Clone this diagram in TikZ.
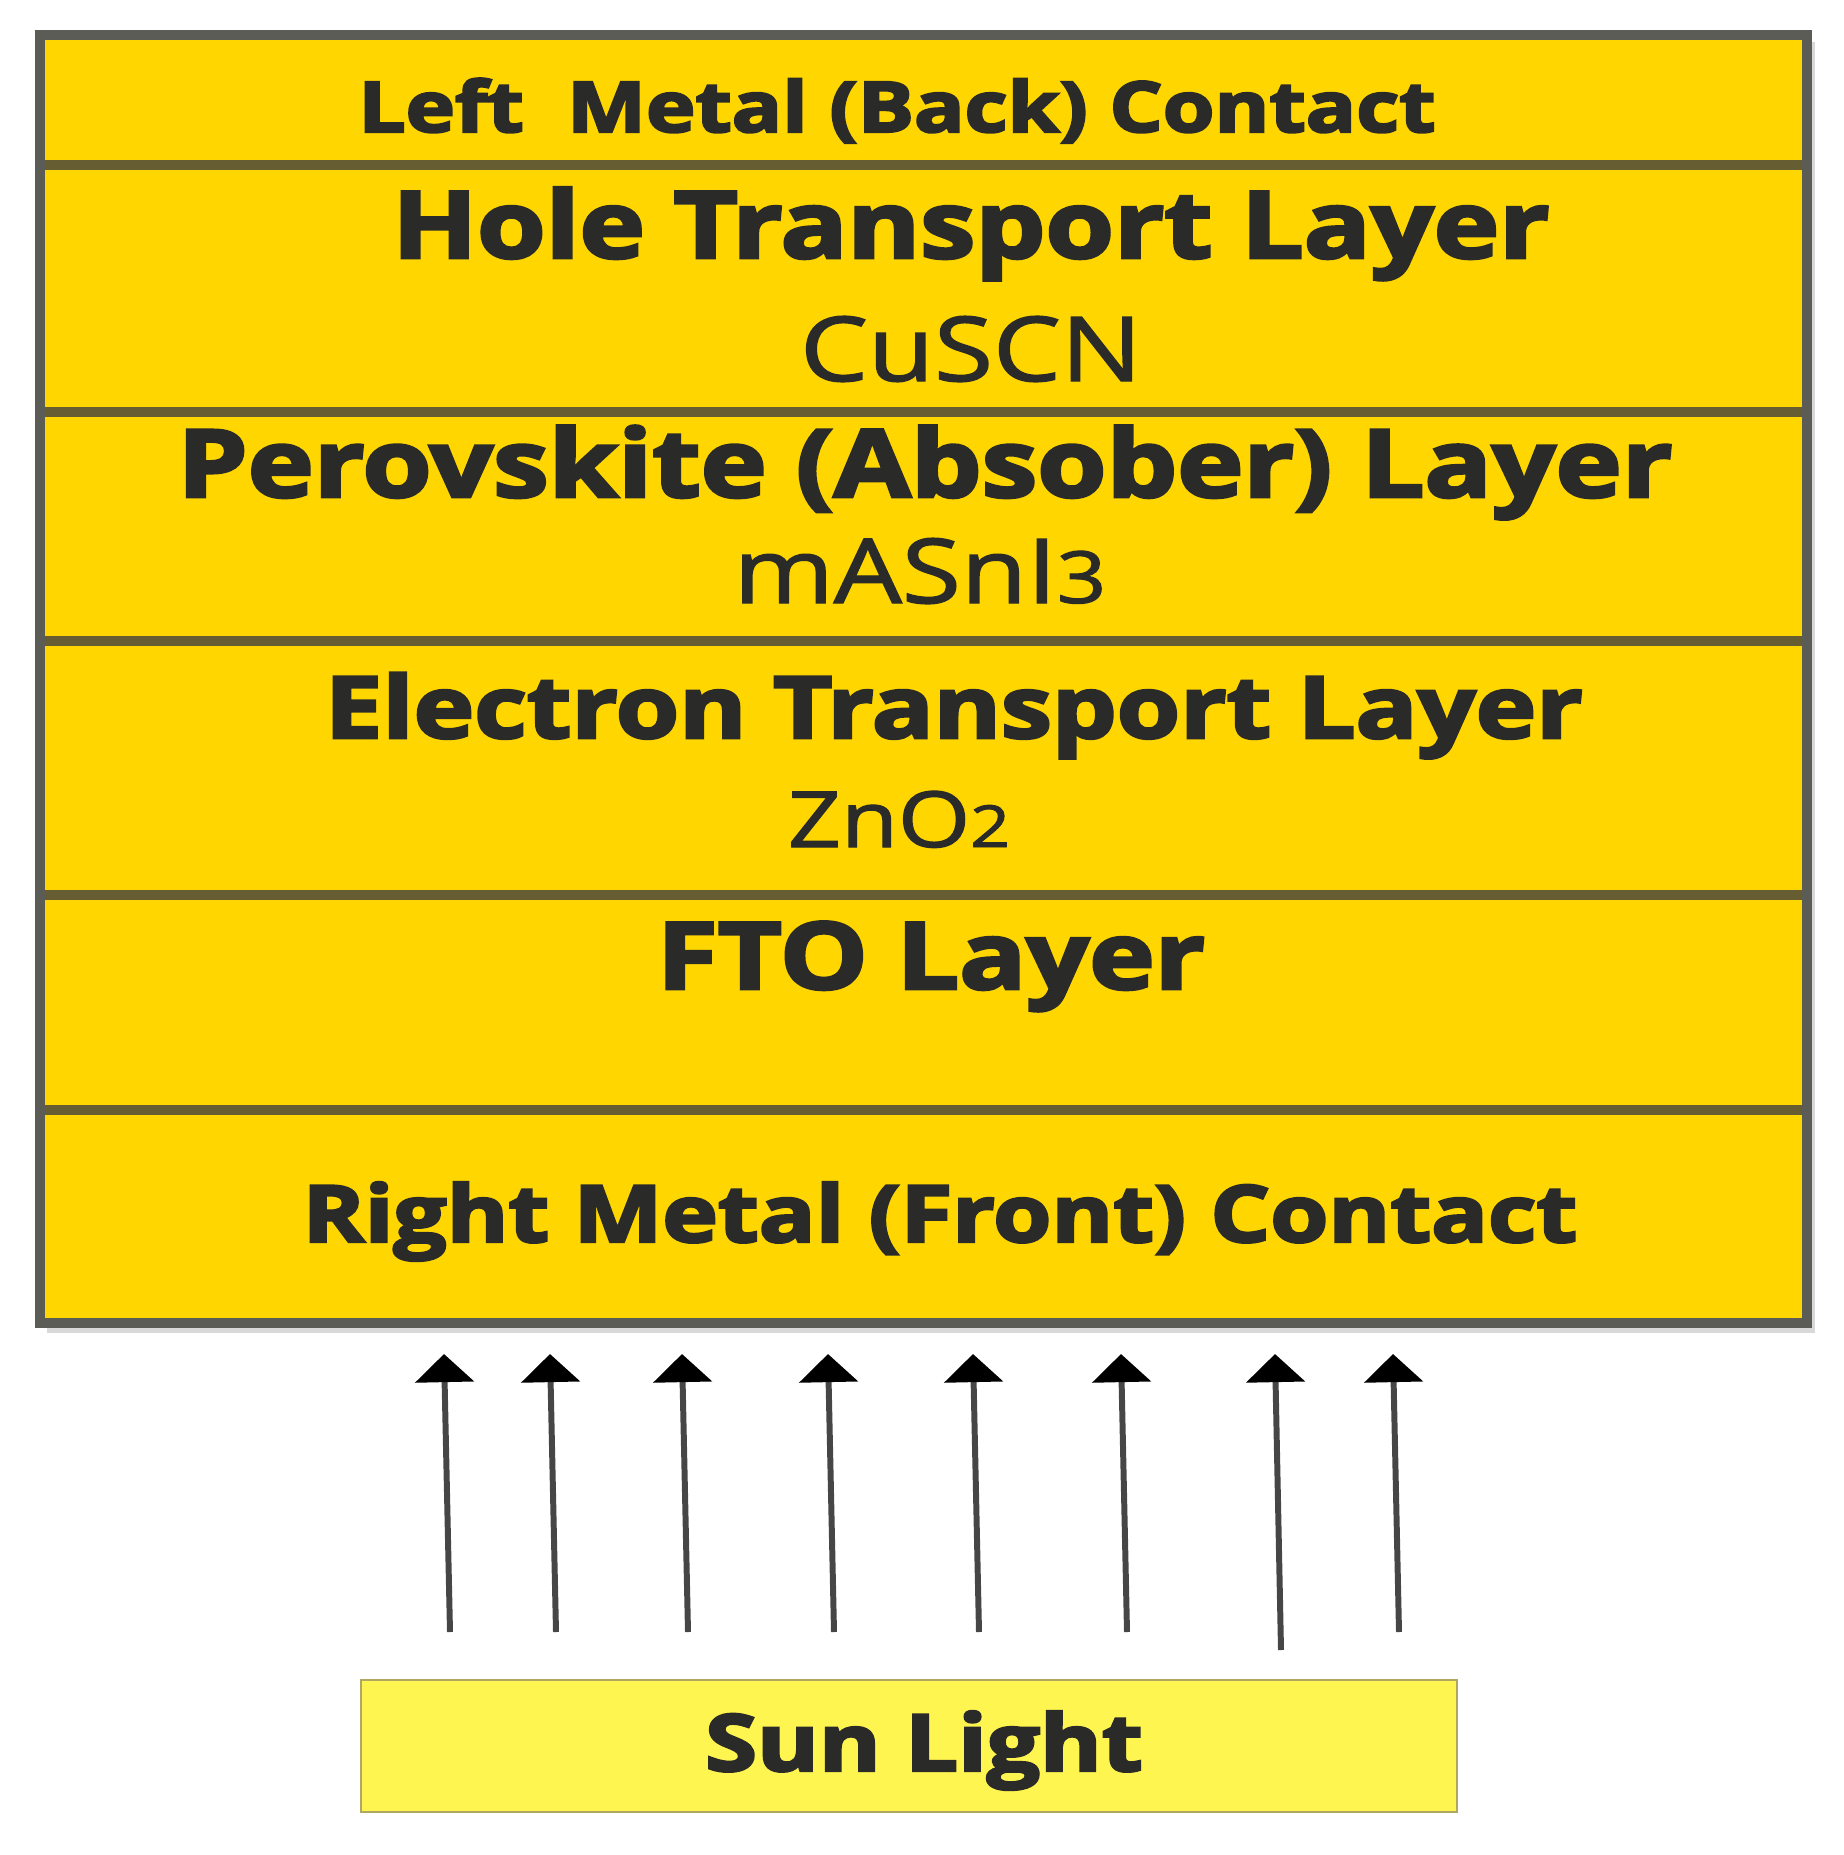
\documentclass[tikz,border=0pt]{standalone}
\usepackage{fontspec}
\usepackage{graphicx}
\setmainfont{Open Sans}
\newfontfamily\heavyfont[BoldFeatures={FakeBold=3}]{Open Sans}
\newfontfamily\medfont[FakeBold=1.5]{Open Sans}
\usetikzlibrary{arrows.meta}
\definecolor{layerfill}{RGB}{255,214,0}
\definecolor{sunfill}{RGB}{255,245,80}
\definecolor{sunedge}{RGB}{176,168,96}
\definecolor{txt}{RGB}{42,42,40}
\definecolor{frame}{RGB}{92,92,86}
\definecolor{divider}{RGB}{102,94,50}
\definecolor{shaft}{RGB}{70,70,70}
\tikzset{
  title/.style={anchor=base, text=txt, inner sep=0pt},
  ray/.style={draw=shaft, line width=3.4pt, -{Triangle[width=33pt,length=16pt,color=black]}},
  sep/.style={draw=divider, line width=5.6pt},
}
\newcommand\hv[2]{\scalebox{1.19}[1]{\heavyfont\bfseries\fontsize{#1}{#1}\selectfont #2}}
\newcommand\md[2]{\scalebox{1.2}[1]{\medfont\fontsize{#1}{#1}\selectfont #2}}
\begin{document}
\begin{tikzpicture}[x=0.02cm,y=-0.02cm]
\useasboundingbox (0,0) rectangle (1844,1855);
% shadow
\fill[black!15] (47,42) rectangle (1815,1333);
% stack body
\fill[layerfill] (40,35) rectangle (1807,1323);
% dividers
\foreach \yy in {165,412,641,895,1110}
  \draw[sep] (45,\yy) -- (1802,\yy);
% outer frame
\draw[frame, line width=5.7pt] (40,35) rectangle (1807,1323);

% layer texts
\node[title] (lmc) at (897,132) {\hv{40}{Left\ \ Metal (Back) Contact}};
\node[title] (htl) at (971,258) {\hv{53}{Hole Transport Layer}};
\node[title] (cuscn) at (971,381) {\md{51}{CuSCN}};
\node[title] (pvk) at (925,497) {\hv{53.5}{Perovskite (Absober) Layer}};
\node[title] (masni) at (920,603) {\md{51}{mASnI{\fontsize{41}{41}\selectfont 3}}};
\node[title] (etl) at (954,738) {\hv{49}{Electron Transport Layer}};
\node[title] (zno) at (899,847) {\md{44}{ZnO{\fontsize{33}{33}\selectfont 2}}};
\node[title] (fto) at (931,989) {\hv{53}{FTO Layer}};
\node[title] (rmc) at (940,1242) {\hv{45}{Right Metal (Front) Contact}};

% sun light box
\node[draw=sunedge, fill=sunfill, line width=1.2pt, minimum width=1096*0.02cm, minimum height=132*0.02cm, inner sep=0pt] (sunbox) at (909,1746) {};
\node[title] (sun) at (924,1771) {\hv{45}{Sun Light}};

% rays
\foreach \i/\xx/\yb in {1/444/1632, 2/550/1632, 3/682/1632, 4/828/1632, 5/973/1632, 6/1121/1632, 7/1275/1650, 8/1393/1632} {
  \coordinate (b\i) at (\xx+6,\yb);
  \coordinate (t\i) at (\xx,1354);
  \draw[ray] (b\i) -- (t\i);
}
\end{tikzpicture}
\end{document}
